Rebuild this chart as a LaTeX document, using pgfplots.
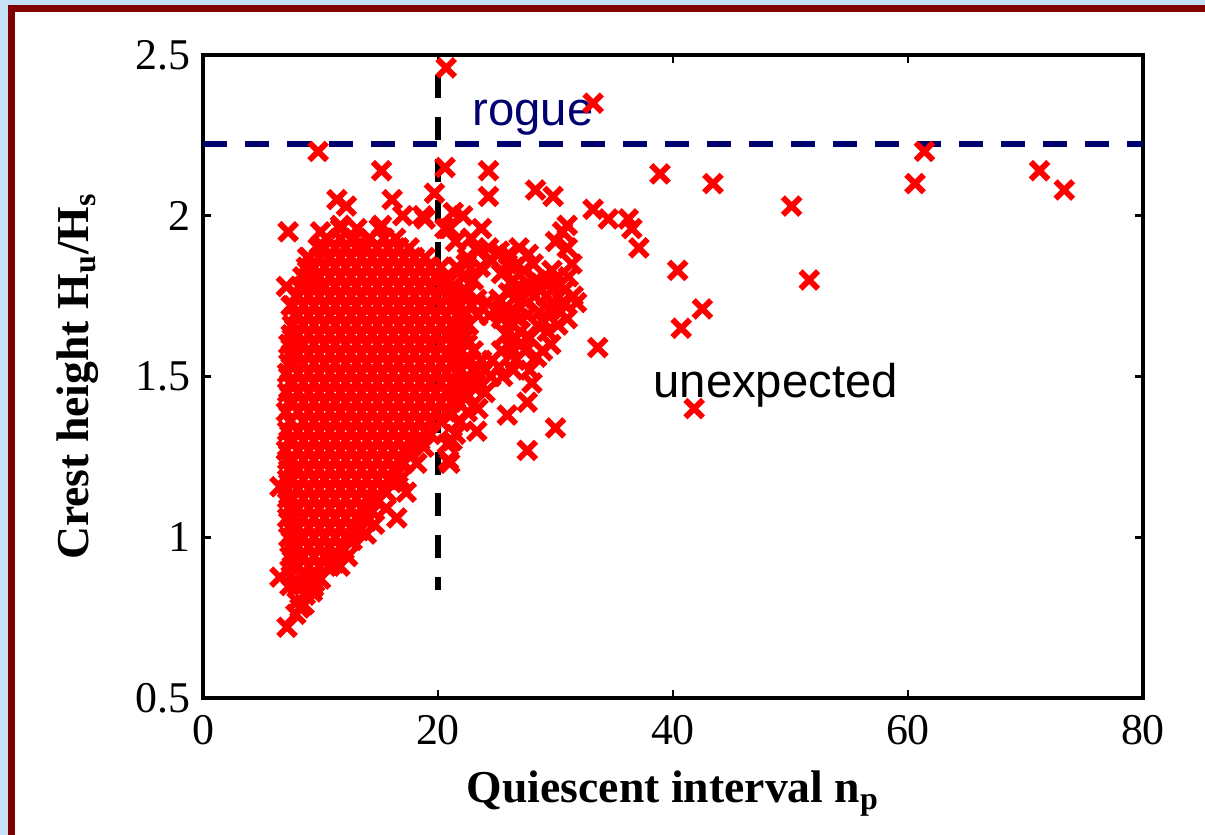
\documentclass[border=0pt]{standalone}
\usepackage{pgfplots}
\pgfplotsset{compat=1.18}
\usepackage{fontspec}
\setmainfont{Liberation Serif}
\newfontfamily\arial{Liberation Sans}
\definecolor{bgblue}{RGB}{198,224,245}
\definecolor{framered}{RGB}{128,0,0}
\definecolor{navy}{RGB}{0,0,110}
\begin{document}
\begin{tikzpicture}
\useasboundingbox (0,0) rectangle (535.56pt,371.11pt);
\fill[bgblue] (0,0) rectangle (535.56pt,371.11pt);
\fill[framered] (3.69pt,0) rectangle (6.67pt,368.75pt);
\fill[framered] (3.69pt,365.9pt) rectangle (535.56pt,368.75pt);
\fill[white] (6.67pt,0) rectangle (535.56pt,365.9pt);
\begin{axis}[
  at={(90.22pt,60.89pt)}, anchor=south west,
  width=417.78pt, height=285.78pt, scale only axis,
  xmin=0, xmax=80, ymin=0.5, ymax=2.5,
  xtick={0,20,40,60,80}, ytick={0.5,1,1.5,2,2.5},
  tick align=inside, major tick length=3.6pt,
  axis line style={line width=1.4pt},
  every tick/.style={line width=1.2pt, black},
  tick label style={font=\fontsize{19.5}{22}\selectfont},
  /pgf/number format/assume math mode=true,
  xticklabel style={anchor=north, inner sep=0pt, yshift=-7.6pt},
  yticklabel style={anchor=east, inner sep=0pt, xshift=-5.3pt},
  xlabel={\textbf{Quiescent interval n\textsubscript{p}}},
  ylabel={\textbf{Crest height H\textsubscript{u}/H\textsubscript{s}}},
  label style={font=\fontsize{20.3}{24}\selectfont},
  xlabel style={at={(axis description cs:0.5,-0.1633)}, anchor=base, inner sep=0pt},
  ylabel style={at={(axis description cs:-0.1223,0.5)}, anchor=base, inner sep=0pt},
]
\addplot[only marks, mark=x, mark size=5.5pt, red, line width=2.6pt] coordinates {
(7.4,0.85) (8.1,0.85) (9.0,0.85) (9.5,0.86)
(7.5,0.88) (8.55,0.88) (9.45,0.88) (10.0,0.87)
(7.6,0.91) (8.1,0.91) (9.0,0.91) (9.9,0.91) (10.8,0.91) (11.2,0.92)
(7.4,0.94) (8.55,0.94) (9.45,0.94) (10.35,0.94) (11.0,0.94)
(7.6,0.97) (8.1,0.97) (9.0,0.97) (9.9,0.97) (10.8,0.97) (11.7,0.97) (12.0,0.96)
(7.3,1.00) (7.65,1.00) (8.55,1.00) (9.45,1.00) (10.35,1.00) (11.25,1.00) (12.15,1.00) (12.7,0.99)
(7.5,1.03) (8.1,1.03) (9.0,1.03) (9.9,1.03) (10.8,1.03) (11.7,1.03) (12.6,1.03) (13.3,1.02)
(7.2,1.06) (7.65,1.06) (8.55,1.06) (9.45,1.06) (10.35,1.06) (11.25,1.06) (12.15,1.06) (13.05,1.06) (13.95,1.05)
(7.3,1.09) (8.1,1.09) (9.0,1.09) (9.9,1.09) (10.8,1.09) (11.7,1.09) (12.6,1.09) (13.5,1.09) (14.4,1.08)
(7.2,1.12) (7.65,1.12) (8.55,1.12) (9.45,1.12) (10.35,1.12) (11.25,1.12) (12.15,1.12) (13.05,1.12) (13.95,1.12) (14.85,1.11)
(7.2,1.15) (8.1,1.15) (9.0,1.15) (9.9,1.15) (10.8,1.15) (11.7,1.15) (12.6,1.15) (13.5,1.15) (14.4,1.15) (15.3,1.15) (15.6,1.14)
(7.2,1.18) (7.65,1.18) (8.55,1.18) (9.45,1.18) (10.35,1.18) (11.25,1.18) (12.15,1.18) (13.05,1.18) (13.95,1.18) (14.85,1.18) (15.75,1.18) (16.1,1.17)
(7.3,1.21) (8.1,1.21) (9.0,1.21) (9.9,1.21) (10.8,1.21) (11.7,1.21) (12.6,1.21) (13.5,1.21) (14.4,1.21) (15.3,1.21) (16.2,1.21) (16.6,1.20)
(7.2,1.24) (7.65,1.24) (8.55,1.24) (9.45,1.24) (10.35,1.24) (11.25,1.24) (12.15,1.24) (13.05,1.24) (13.95,1.24) (14.85,1.24) (15.75,1.24) (16.65,1.24) (17.1,1.23)
(7.1,1.27) (8.1,1.27) (9.0,1.27) (9.9,1.27) (10.8,1.27) (11.7,1.27) (12.6,1.27) (13.5,1.27) (14.4,1.27) (15.3,1.27) (16.2,1.27) (17.1,1.27) (17.7,1.26)
(7.3,1.30) (7.65,1.30) (8.55,1.30) (9.45,1.30) (10.35,1.30) (11.25,1.30) (12.15,1.30) (13.05,1.30) (13.95,1.30) (14.85,1.30) (15.75,1.30) (16.65,1.30) (17.55,1.30) (18.45,1.30)
(7.2,1.33) (8.1,1.33) (9.0,1.33) (9.9,1.33) (10.8,1.33) (11.7,1.33) (12.6,1.33) (13.5,1.33) (14.4,1.33) (15.3,1.33) (16.2,1.33) (17.1,1.33) (18.0,1.33) (18.9,1.33) (19.4,1.32)
(7.4,1.36) (8.55,1.36) (9.45,1.36) (10.35,1.36) (11.25,1.36) (12.15,1.36) (13.05,1.36) (13.95,1.36) (14.85,1.36) (15.75,1.36) (16.65,1.36) (17.55,1.36) (18.45,1.36) (19.35,1.36) (20.25,1.36)
(7.1,1.39) (8.1,1.39) (9.0,1.39) (9.9,1.39) (10.8,1.39) (11.7,1.39) (12.6,1.39) (13.5,1.39) (14.4,1.39) (15.3,1.39) (16.2,1.39) (17.1,1.39) (18.0,1.39) (18.9,1.39) (19.8,1.39) (20.7,1.39) (21.1,1.38)
(7.3,1.42) (7.65,1.42) (8.55,1.42) (9.45,1.42) (10.35,1.42) (11.25,1.42) (12.15,1.42) (13.05,1.42) (13.95,1.42) (14.85,1.42) (15.75,1.42) (16.65,1.42) (17.55,1.42) (18.45,1.42) (19.35,1.42) (20.25,1.42) (21.15,1.42) (21.5,1.43)
(7.2,1.45) (8.1,1.45) (9.0,1.45) (9.9,1.45) (10.8,1.45) (11.7,1.45) (12.6,1.45) (13.5,1.45) (14.4,1.45) (15.3,1.45) (16.2,1.45) (17.1,1.45) (18.0,1.45) (18.9,1.45) (19.8,1.45) (20.7,1.45) (21.6,1.45) (22.0,1.46)
(7.4,1.48) (7.65,1.48) (8.55,1.48) (9.45,1.48) (10.35,1.48) (11.25,1.48) (12.15,1.48) (13.05,1.48) (13.95,1.48) (14.85,1.48) (15.75,1.48) (16.65,1.48) (17.55,1.48) (18.45,1.48) (19.35,1.48) (20.25,1.48) (21.15,1.48) (21.6,1.48)
(7.2,1.51) (8.1,1.51) (9.0,1.51) (9.9,1.51) (10.8,1.51) (11.7,1.51) (12.6,1.51) (13.5,1.51) (14.4,1.51) (15.3,1.51) (16.2,1.51) (17.1,1.51) (18.0,1.51) (18.9,1.51) (19.8,1.51) (20.7,1.51) (21.6,1.51)
(7.3,1.54) (7.65,1.54) (8.55,1.54) (9.45,1.54) (10.35,1.54) (11.25,1.54) (12.15,1.54) (13.05,1.54) (13.95,1.54) (14.85,1.54) (15.75,1.54) (16.65,1.54) (17.55,1.54) (18.45,1.54) (19.35,1.54) (20.25,1.54) (21.15,1.54) (21.5,1.55)
(7.5,1.57) (8.1,1.57) (9.0,1.57) (9.9,1.57) (10.8,1.57) (11.7,1.57) (12.6,1.57) (13.5,1.57) (14.4,1.57) (15.3,1.57) (16.2,1.57) (17.1,1.57) (18.0,1.57) (18.9,1.57) (19.8,1.57) (20.7,1.57) (21.6,1.57)
(7.3,1.60) (7.65,1.60) (8.55,1.60) (9.45,1.60) (10.35,1.60) (11.25,1.60) (12.15,1.60) (13.05,1.60) (13.95,1.60) (14.85,1.60) (15.75,1.60) (16.65,1.60) (17.55,1.60) (18.45,1.60) (19.35,1.60) (20.25,1.60) (21.15,1.60) (21.7,1.61)
(7.5,1.63) (8.1,1.63) (9.0,1.63) (9.9,1.63) (10.8,1.63) (11.7,1.63) (12.6,1.63) (13.5,1.63) (14.4,1.63) (15.3,1.63) (16.2,1.63) (17.1,1.63) (18.0,1.63) (18.9,1.63) (19.8,1.63) (20.7,1.63) (21.6,1.63) (22.0,1.64)
(7.6,1.66) (8.55,1.66) (9.45,1.66) (10.35,1.66) (11.25,1.66) (12.15,1.66) (13.05,1.66) (13.95,1.66) (14.85,1.66) (15.75,1.66) (16.65,1.66) (17.55,1.66) (18.45,1.66) (19.35,1.66) (20.25,1.66) (21.15,1.66) (22.05,1.66)
(7.8,1.69) (8.1,1.69) (9.0,1.69) (9.9,1.69) (10.8,1.69) (11.7,1.69) (12.6,1.69) (13.5,1.69) (14.4,1.69) (15.3,1.69) (16.2,1.69) (17.1,1.69) (18.0,1.69) (18.9,1.69) (19.8,1.69) (20.7,1.69) (21.6,1.69) (22.2,1.70)
(7.5,1.72) (7.65,1.72) (8.55,1.72) (9.45,1.72) (10.35,1.72) (11.25,1.72) (12.15,1.72) (13.05,1.72) (13.95,1.72) (14.85,1.72) (15.75,1.72) (16.65,1.72) (17.55,1.72) (18.45,1.72) (19.35,1.72) (20.25,1.72) (21.15,1.72) (21.9,1.72)
(7.9,1.75) (8.1,1.75) (9.0,1.75) (9.9,1.75) (10.8,1.75) (11.7,1.75) (12.6,1.75) (13.5,1.75) (14.4,1.75) (15.3,1.75) (16.2,1.75) (17.1,1.75) (18.0,1.75) (18.9,1.75) (19.8,1.75) (20.7,1.75) (21.4,1.76)
(8.2,1.78) (8.55,1.78) (9.45,1.78) (10.35,1.78) (11.25,1.78) (12.15,1.78) (13.05,1.78) (13.95,1.78) (14.85,1.78) (15.75,1.78) (16.65,1.78) (17.55,1.78) (18.45,1.78) (19.35,1.78) (20.25,1.78) (20.8,1.79)
(8.5,1.81) (9.0,1.81) (9.9,1.81) (10.8,1.81) (11.7,1.81) (12.6,1.81) (13.5,1.81) (14.4,1.81) (15.3,1.81) (16.2,1.81) (17.1,1.81) (18.0,1.81) (18.9,1.81) (19.8,1.81) (20.7,1.81)
(8.8,1.84) (9.45,1.84) (10.35,1.84) (11.25,1.84) (12.15,1.84) (13.05,1.84) (13.95,1.84) (14.85,1.84) (15.75,1.84) (16.65,1.84) (17.55,1.84) (18.45,1.84) (19.35,1.84) (20.25,1.84)
(9.0,1.87) (9.9,1.87) (10.8,1.87) (11.7,1.87) (12.6,1.87) (13.5,1.87) (14.4,1.87) (15.3,1.87) (16.2,1.87) (17.1,1.87) (18.0,1.87) (18.9,1.87)
(9.8,1.90) (10.35,1.90) (11.25,1.90) (12.15,1.90) (13.05,1.90) (13.95,1.90) (14.85,1.90) (15.75,1.90) (16.65,1.90) (17.55,1.90)
(10.5,1.93) (11.7,1.93) (12.9,1.93) (14.2,1.93) (15.4,1.93) (16.4,1.93)
(11.7,1.96) (13.1,1.96) (15.0,1.96)
(21.5,1.92) (22.8,1.93) (21.0,1.96) (23.7,1.96) (22.5,1.87) (23.4,1.89) (24.3,1.90) (25.2,1.89) (26.0,1.88) (26.9,1.90) (27.7,1.88) (28.1,1.85) (21.3,2.01) (22.1,2.00) (20.8,1.96)
(22.1,1.81) (22.5,1.76) (23.3,1.74) (24.2,1.73) (25.2,1.74) (26.0,1.76) (26.4,1.80) (25.9,1.85) (22.4,1.85) (21.6,1.84) (21.4,1.78)
(26.8,1.78) (27.6,1.79) (28.4,1.80) (29.2,1.79) (30.0,1.78) (30.8,1.77) (31.5,1.75) (31.8,1.73) (30.6,1.73) (29.6,1.71) (28.6,1.70) (27.6,1.69) (26.6,1.70) (25.6,1.71) (27.2,1.74) (28.2,1.75) (29.2,1.75) (30.2,1.75) (31.1,1.81) (29.7,1.83)
(30.0,1.92) (31.0,1.90) (31.4,1.85) (31.0,1.97) (30.6,1.95) (28.3,2.08) (29.8,2.06)
(22.6,1.66) (23.0,1.58) (23.7,1.55) (24.6,1.55) (25.4,1.58) (25.8,1.63) (25.4,1.68) (24.4,1.69) (23.4,1.69) (22.5,1.60) (22.4,1.54)
(26.1,1.67) (27.0,1.64) (27.0,1.60) (27.8,1.62) (28.4,1.56) (29.3,1.64) (28.9,1.58) (27.8,1.52) (26.6,1.55) (25.5,1.50) (26.4,1.52) (24.5,1.50) (23.3,1.49) (22.1,1.44) (23.0,1.47) (28.5,1.66) (26.9,1.68)
(22.5,1.50) (23.2,1.52) (22.8,1.55) (22.3,1.70) (22.9,1.72) (23.0,1.80) (23.6,1.84) (24.6,1.86) (25.4,1.82) (26.5,1.84) (27.3,1.83) (27.8,1.77) (28.8,1.77) (29.9,1.80) (30.4,1.70) (29.0,1.67) (27.4,1.58) (26.2,1.59) (25.2,1.53) (24.0,1.52) (21.9,1.52) (21.8,1.58) (22.3,1.62) (26.6,1.62) (28.0,1.48) (29.6,1.60) (30.2,1.66) (31.0,1.68)
(27.6,1.42) (25.9,1.38) (30.0,1.34) (27.6,1.27) (23.3,1.33) (23.4,1.40) (21.9,1.36) (20.8,1.29) (21.0,1.23) (22.5,1.39) (24.0,1.45) (21.5,1.32) (22.6,1.44) (21.2,1.30)
(20.7,2.46) (33.2,2.35) (9.8,2.20) (15.2,2.14) (20.6,2.15) (24.3,2.14) (24.3,2.06) (19.7,2.07) (33.2,2.02) (34.5,1.99) (36.2,1.99) (36.5,1.96) (37.1,1.90) (38.9,2.13) (43.4,2.10) (50.1,2.03) (61.4,2.20) (60.6,2.10) (71.2,2.14) (73.3,2.08) (40.4,1.83) (51.6,1.80) (42.5,1.71) (40.7,1.65) (41.8,1.40) (33.6,1.59)
(11.4,2.05) (12.2,2.03) (16.1,2.05) (17.0,2.00) (18.7,2.00) (10.0,1.95) (7.25,1.95) (8.9,1.87) (7.1,1.78) (15.2,1.97) (11.7,1.97) (12.1,1.90) (9.5,1.80) (20.6,1.96) (18.9,1.99)
(6.55,0.876) (6.55,1.157) (7.7,0.94) (7.15,0.72) (8.25,0.78) (9.4,0.845) (11.66,0.91) (13.9,1.01) (16.5,1.06) (17.3,1.14) (18.2,1.23) (20.9,1.24) (8.0,0.80) (8.7,0.82) (9.3,0.83) (12.3,0.94) (14.6,1.04) (15.6,1.09) (16.8,1.18) (18.8,1.28) (7.9,0.76) (8.6,0.79)
};
\addplot[navy, line width=2.67pt, dash pattern=on 10.67pt off 8pt] coordinates {(0,2.223) (80,2.223)};
\addplot[black, line width=2.67pt, dash pattern=on 10.2pt off 8.4pt] coordinates {(20,2.438) (20,0.836)};
\node[font=\arial\fontsize{21}{25}\selectfont, text=navy, anchor=base west, inner sep=0pt] at (axis cs:22.9,2.282) {rogue};
\node[font=\arial\fontsize{21}{25}\selectfont, text=black, anchor=base west, inner sep=0pt] at (axis cs:38.3,1.436) {unexpected};
\end{axis}
\end{tikzpicture}
\end{document}
